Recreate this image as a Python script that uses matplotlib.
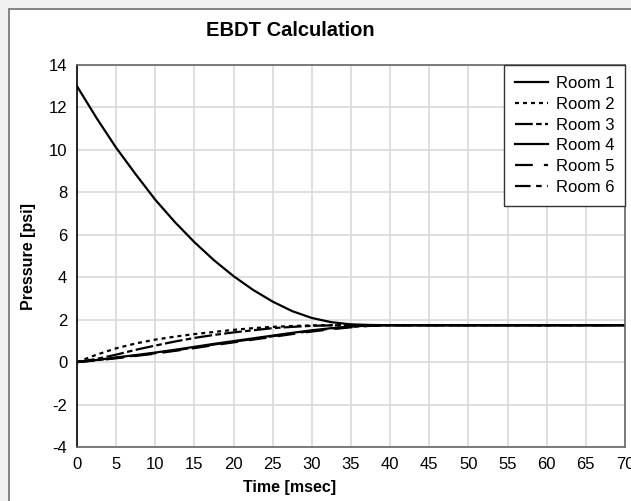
import matplotlib
matplotlib.use("Agg")
import matplotlib.pyplot as plt
from matplotlib.patches import Rectangle

plt.rcParams['font.family'] = ['Liberation Sans', 'DejaVu Sans']
plt.rcParams['axes.unicode_minus'] = False

# time axis (msec)
t = [0, 2.5, 5, 7.5, 10, 12.5, 15, 17.5, 20, 22.5, 25, 27.5, 30, 32.5, 35, 37.5, 40,
     45, 50, 55, 60, 65, 70]

room1 = [13.0, 11.5, 10.1, 8.85, 7.65, 6.6, 5.65, 4.8, 4.05, 3.4, 2.85, 2.4, 2.08, 1.88, 1.78, 1.75, 1.74,
         1.74, 1.74, 1.74, 1.74, 1.74, 1.74]
room2 = [0.0, 0.35, 0.65, 0.88, 1.06, 1.2, 1.32, 1.42, 1.52, 1.6, 1.66, 1.7, 1.73, 1.74, 1.74, 1.74, 1.74,
         1.74, 1.74, 1.74, 1.74, 1.74, 1.74]
room3 = [0.0, 0.15, 0.35, 0.58, 0.78, 0.97, 1.14, 1.28, 1.4, 1.5, 1.6, 1.66, 1.71, 1.73, 1.74, 1.74, 1.74,
         1.74, 1.74, 1.74, 1.74, 1.74, 1.74]
room4 = [0.0, 0.1, 0.22, 0.33, 0.45, 0.58, 0.72, 0.86, 0.99, 1.12, 1.25, 1.38, 1.5, 1.6, 1.68, 1.72, 1.74,
         1.74, 1.74, 1.74, 1.74, 1.74, 1.74]
room5 = [0.0, 0.08, 0.18, 0.29, 0.4, 0.53, 0.66, 0.8, 0.93, 1.06, 1.19, 1.32, 1.44, 1.55, 1.64, 1.71, 1.74,
         1.74, 1.74, 1.74, 1.74, 1.74, 1.74]
room6 = [0.0, 0.09, 0.2, 0.31, 0.42, 0.55, 0.69, 0.83, 0.96, 1.09, 1.22, 1.35, 1.47, 1.58, 1.66, 1.72, 1.74,
         1.74, 1.74, 1.74, 1.74, 1.74, 1.74]

labels = ["Room 1", "Room 2", "Room 3", "Room 4", "Room 5", "Room 6"]
series = [room1, room2, room3, room4, room5, room6]
styles = ['-', (0, (1.8, 1.8)), (0, (8, 1.5, 2.5, 1.5)), '-', (0, (8, 5)), (0, (7, 2.5, 2.5, 2.5))]

xticks = list(range(0, 71, 5))
yticks = list(range(-4, 15, 2))

W, H = 631, 501
fig = plt.figure(figsize=(W / 100, H / 100), dpi=100, facecolor='#f0f0f0')

# white panel with border
fig.patches.append(Rectangle((8.5 / W, -0.1), 1.2, 1 - 8.5 / H + 0.1, transform=fig.transFigure,
                             facecolor='white', edgecolor='#707070', linewidth=1.2, zorder=-10))

ax = fig.add_axes([77 / W, 1 - 447 / H, 548 / W, 382 / H])
ax.set_facecolor('white')

for y, lab, ls in zip(series, labels, styles):
    ax.plot(t, y, color='black', linestyle=ls, linewidth=1.6, label=lab)

ax.set_xlim(0, 70)
ax.set_ylim(-4, 14)
ax.set_xticks(xticks)
ax.set_yticks(yticks)
ax.grid(True, color='#d9d9d9', linewidth=1.2)
ax.set_axisbelow(True)
ax.tick_params(length=0, labelsize=12, pad=7)

for side in ['top', 'right', 'bottom']:
    ax.spines[side].set_color('#666666')
    ax.spines[side].set_linewidth(1.2)
ax.spines['left'].set_color('black')
ax.spines['left'].set_linewidth(1.2)

ax.set_xlabel("Time [msec]", fontsize=11.5, fontweight='bold')
ax.xaxis.set_label_coords((290 - 77) / 548, -(480 - 447) / 382)
ax.set_ylabel("Pressure [psi]", fontsize=11.5, fontweight='bold')
ax.yaxis.set_label_coords(-(77 - 36) / 548, 0.5)

fig.text(290 / W, 1 - 30 / H, "EBDT Calculation", fontsize=14.5, fontweight='bold',
         ha='center', va='center')

leg = ax.legend(loc='upper right', bbox_to_anchor=(1, 1), borderaxespad=0, fontsize=12,
                frameon=True, fancybox=False, edgecolor='#333333', framealpha=1,
                handlelength=2.0, handletextpad=0.45, labelspacing=0.35, borderpad=0.65)
leg.get_frame().set_linewidth(1.0)

fig.savefig("out.png", dpi=100, facecolor=fig.get_facecolor())
